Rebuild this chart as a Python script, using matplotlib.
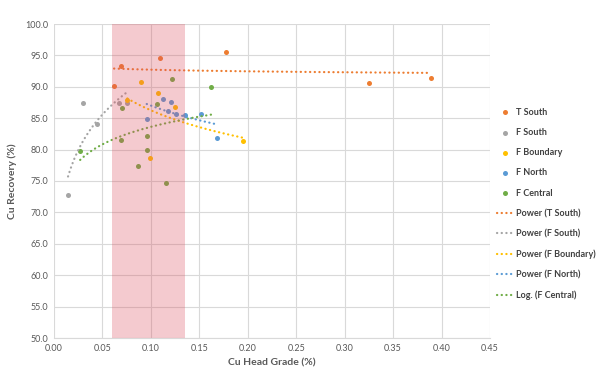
import numpy as np
import matplotlib
matplotlib.use("Agg")
import matplotlib.pyplot as plt

plt.rcParams['font.family'] = ['Lato', 'DejaVu Sans']

# ---- data ----
t_south_x = [0.062, 0.0696, 0.1095, 0.178, 0.325, 0.389]
t_south_y = [90.1, 93.3, 94.6, 95.6, 90.6, 91.4]

f_south_x = [0.0145, 0.0296, 0.0448, 0.067, 0.0755]
f_south_y = [72.8, 87.5, 84.1, 87.4, 87.4]

f_boundary_x = [0.0757, 0.090, 0.0992, 0.107, 0.125, 0.195]
f_boundary_y = [87.9, 90.7, 78.7, 89.0, 86.8, 81.3]

f_north_x = [0.0957, 0.112, 0.118, 0.121, 0.126, 0.1353, 0.1515, 0.168]
f_north_y = [84.8, 88.0, 86.1, 87.6, 85.6, 85.5, 85.7, 81.9]

f_central_x = [0.027, 0.069, 0.0702, 0.087, 0.0957, 0.0957, 0.106, 0.1157, 0.122, 0.162]
f_central_y = [79.8, 81.5, 86.7, 77.4, 82.2, 80.0, 87.3, 74.7, 91.2, 89.9]

shade_x = [0.06, 0.135]

series_names = ['T South', 'F South', 'F Boundary', 'F North', 'F Central']
colors = ['#ED7D31', '#A5A5A5', '#FFC000', '#5B9BD5', '#70AD47']
trend_kind = ['Power', 'Power', 'Power', 'Power', 'Log.']

data = [(t_south_x, t_south_y), (f_south_x, f_south_y), (f_boundary_x, f_boundary_y),
        (f_north_x, f_north_y), (f_central_x, f_central_y)]

fig = plt.figure(figsize=(6.05, 3.78), dpi=100)
ax = fig.add_axes([54/605, 1-338/378, 436/605, 314/378])

txt = '#595959'
ax.set_xlim(0, 0.45)
ax.set_ylim(50, 100)
ax.set_xticks(np.arange(0, 0.451, 0.05))
ax.set_yticks(np.arange(50, 100.1, 5))
ax.set_xticklabels([f'{v:.2f}' for v in np.arange(0, 0.451, 0.05)])
ax.set_yticklabels([f'{v:.1f}' for v in np.arange(50, 100.1, 5)])
ax.tick_params(axis='both', length=0, labelsize=6.5, colors=txt, pad=4)
ax.grid(True, color='#D9D9D9', linewidth=0.8)
ax.set_axisbelow(True)
for s in ['top', 'right', 'left']:
    ax.spines[s].set_visible(False)
ax.spines['bottom'].set_color('#D9D9D9')

ax.set_xlabel('Cu Head Grade (%)', fontsize=7.5, fontweight='bold', color=txt, labelpad=4)
ax.set_ylabel('Cu Recovery (%)', fontsize=7.5, fontweight='bold', color=txt, labelpad=6)

handles_pts = []
handles_tr = []
for (xs, ys), name, c, kind in zip(data, series_names, colors, trend_kind):
    xs = np.array(xs); ys = np.array(ys)
    h = ax.scatter(xs, ys, s=13, color=c, zorder=3, linewidths=0, label=name)
    handles_pts.append(h)
    xx = np.linspace(xs.min(), xs.max(), 200)
    if kind == 'Power':
        b, a = np.polyfit(np.log(xs), np.log(ys), 1)
        yy = np.exp(a) * xx ** b
        lab = f'Power ({name})'
    else:
        b, a = np.polyfit(np.log(xs), ys, 1)
        yy = a + b * np.log(xx)
        lab = f'Log. ({name})'
    l, = ax.plot(xx, yy, color=c, linewidth=1.6, linestyle=(0, (0.1, 2.0)),
                 dash_capstyle='round', zorder=4, label=lab)
    handles_tr.append(l)

ax.axvspan(shade_x[0], shade_x[1], color='#DC5060', alpha=0.3, linewidth=0, zorder=5)

leg = fig.legend(handles=handles_pts + handles_tr, loc='upper left',
                 bbox_to_anchor=(493/605, 1-104/378), frameon=False,
                 fontsize=6.5, labelspacing=1.25, handlelength=1.8, handletextpad=0.3,
                 borderaxespad=0)
for t in leg.get_texts():
    t.set_color('#404040')
    t.set_fontweight('bold')

fig.savefig('out.png', dpi=100)
